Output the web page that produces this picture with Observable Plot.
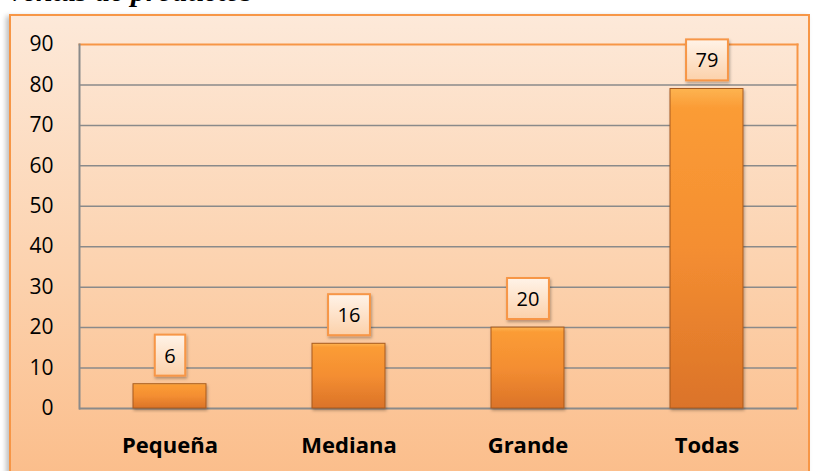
<!DOCTYPE html>
<html><head><meta charset="utf-8">
<script src="https://cdn.jsdelivr.net/npm/d3@7"></script>
<script src="https://cdn.jsdelivr.net/npm/@observablehq/plot@0.6"></script>
<style>
body{margin:0;background:#fff;width:815px;height:471px;overflow:hidden;position:relative;font-family:"Open Sans",sans-serif}
#title{position:absolute;left:6px;top:-24px;font:italic bold 30px/1 "Liberation Serif",serif;color:#000;white-space:nowrap}
#frame{position:absolute;left:9px;top:14px;width:801px;height:470px;box-sizing:border-box;border:2px solid #f79646;background:linear-gradient(#fde9d9,#fcd2ae 55%,#fbbd8a);box-shadow:-3px 2px 5px rgba(0,0,0,0.25)}
#chart{position:absolute;left:9px;top:14px}
</style></head><body>
<div id="title">Ventas de productos</div>
<div id="frame"></div>
<div id="chart"></div>
<script>
const categories = ["Pequeña", "Mediana", "Grande", "Todas"];
const values = [6, 16, 20, 79];
const yTicks = [0, 10, 20, 30, 40, 50, 60, 70, 80, 90];
const gridTicks = [10, 20, 30, 40, 50, 60, 70, 80];

const data = categories.map((c, i) => ({cat: c, v: values[i]}));

const svg = Plot.plot({
  width: 801,
  height: 457,
  marginLeft: 70,
  marginRight: 13,
  marginTop: 30,
  marginBottom: 63,
  style: {background: "transparent", fontFamily: "'Open Sans', sans-serif", color: "#000"},
  x: {domain: categories, paddingInner: 0.59, paddingOuter: 0.295, label: null},
  y: {domain: [0, 90], label: null},
  marks: [
    Plot.ruleY(gridTicks, {stroke: "#8a8a8a", strokeWidth: 1.5}),
    Plot.frame({anchor: "top", stroke: "#f79646", strokeWidth: 2}),
    Plot.frame({anchor: "right", stroke: "#f79646", strokeWidth: 2}),
    Plot.frame({anchor: "left", stroke: "#8a8a8a", strokeWidth: 2}),
    Plot.ruleY([0], {stroke: "#8a8a8a", strokeWidth: 2}),
    Plot.barY(data, {x: "cat", y: "v", fill: "url(#barGrad)", stroke: "#a85a1e", strokeWidth: 1, className: "bars"}),
    Plot.text(data, {x: "cat", y: "v", text: d => String(d.v), dy: -28, fontSize: 20, fill: "#000", className: "vlabels"}),
    Plot.axisY(yTicks, {tickSize: 0, tickPadding: 26, fontSize: 21}),
    Plot.axisX({tickSize: 0, tickPadding: 29, fontSize: 22, fontWeight: "bold"})
  ]
});

document.getElementById("chart").appendChild(svg);

const ns = "http://www.w3.org/2000/svg";
const defs = document.createElementNS(ns, "defs");
defs.innerHTML = `
<linearGradient id="barGrad" x1="0" y1="0" x2="0" y2="1">
  <stop offset="0" stop-color="#fdb451"/>
  <stop offset="0.06" stop-color="#fb9c36"/>
  <stop offset="0.5" stop-color="#f48e31"/>
  <stop offset="1" stop-color="#db7329"/>
</linearGradient>
<linearGradient id="boxGrad" x1="0" y1="0" x2="0" y2="1">
  <stop offset="0" stop-color="#fff3e8"/>
  <stop offset="1" stop-color="#fcd1aa"/>
</linearGradient>
<filter id="shadow" x="-20%" y="-20%" width="140%" height="140%">
  <feDropShadow dx="1" dy="2" stdDeviation="1.5" flood-color="#000" flood-opacity="0.3"/>
</filter>`;
svg.insertBefore(defs, svg.firstChild);

svg.querySelectorAll("g.bars rect").forEach(r => r.setAttribute("filter", "url(#shadow)"));

svg.querySelectorAll("g.vlabels text").forEach(t => {
  const b = t.getBBox();
  const cy = b.y + b.height / 2;
  const r = document.createElementNS(ns, "rect");
  r.setAttribute("x", b.x - 9.5);
  r.setAttribute("y", cy - 20.5);
  r.setAttribute("width", b.width + 19);
  r.setAttribute("height", 41);
  r.setAttribute("fill", "url(#boxGrad)");
  r.setAttribute("stroke", "#f79646");
  r.setAttribute("stroke-width", 2);
  r.setAttribute("filter", "url(#shadow)");
  const tr = t.getAttribute("transform");
  if (tr) r.setAttribute("transform", tr);
  t.parentNode.insertBefore(r, t);
});
</script>
</body></html>
